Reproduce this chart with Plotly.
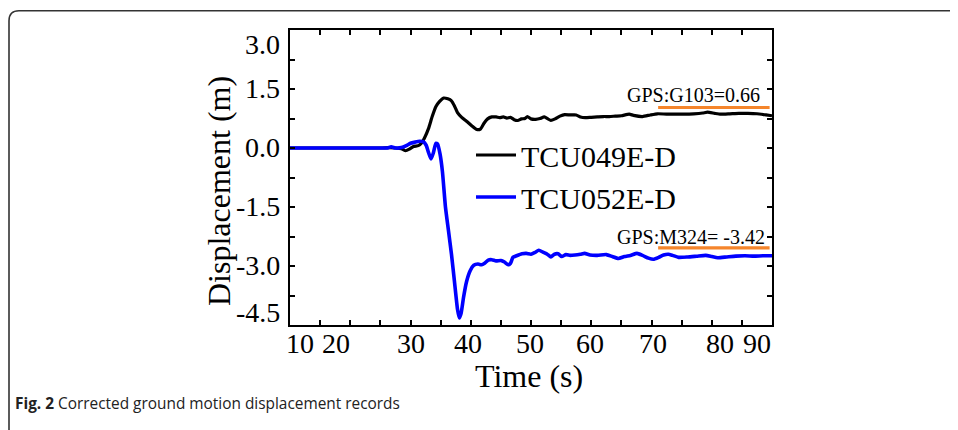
import plotly.graph_objects as go

# ---------------- data ----------------
t_049 = [10, 25, 26.5, 27.5, 28.5, 29.2, 29.8, 30.5, 31.3, 31.8, 32.3, 33.0, 33.6, 34.2, 34.8,
         35.5, 36.2, 36.8, 37.3, 37.8, 38.5, 39.3, 40.2, 41.0, 41.6, 42.2, 42.8, 43.5, 44.2,
         44.8, 45.4, 46.0, 46.6, 47.2, 47.8, 48.4, 49.0, 49.4, 50.0, 50.8, 51.5, 52.2, 52.8,
         53.3, 54.0, 54.8, 55.6, 56.5, 57.5, 58.2, 59.0, 60.0, 61.0, 62.0, 63.0, 64.0, 65.0,
         66.3, 67.0, 68.5, 69.8, 71.0, 72.5, 74.0, 75.5, 77.0, 78.5, 79.3, 80.5, 81.5, 83.0,
         84.5, 86.0, 87.5, 89.0, 90.0]
d_049 = [0, 0, 0.01, 0.0, -0.02, -0.07, -0.03, 0.04, 0.06, 0.12, 0.25, 0.5, 0.8, 1.05, 1.18,
         1.27, 1.25, 1.2, 1.07, 0.9, 0.78, 0.68, 0.56, 0.47, 0.48, 0.63, 0.74, 0.79, 0.79,
         0.77, 0.79, 0.76, 0.78, 0.72, 0.70, 0.74, 0.75, 0.80, 0.74, 0.73, 0.75, 0.79, 0.74,
         0.70, 0.74, 0.81, 0.85, 0.84, 0.84, 0.79, 0.77, 0.78, 0.79, 0.80, 0.80, 0.81, 0.82,
         0.86, 0.83, 0.80, 0.84, 0.87, 0.86, 0.86, 0.86, 0.87, 0.89, 0.91, 0.88, 0.86, 0.87,
         0.88, 0.88, 0.87, 0.84, 0.82]

t_052 = [10, 25, 26.2, 26.8, 27.5, 28.5, 29.3, 30.0, 30.8, 31.5, 32.1, 32.6, 33.0, 33.4, 33.8,
         34.2, 34.5, 34.9, 35.3, 35.8, 36.3, 36.8, 37.3, 37.8, 38.1, 38.4, 38.8, 39.3, 39.9,
         40.5, 41.2, 41.8, 42.3, 42.9, 43.5, 44.2, 45.0, 45.6, 46.2, 46.6, 47.0, 47.6, 48.5,
         49.2, 50.0, 50.6, 51.3, 52.0, 52.7, 53.3, 53.9, 54.5, 55.1, 55.8, 56.5, 57.3, 58.2,
         58.9, 59.8, 61.0, 62.5, 63.5, 64.5, 65.5, 66.5, 67.6, 68.5, 69.5, 70.3, 71.2, 72.0,
         72.8, 73.5, 74.5, 76.0, 77.5, 79.0, 80.0, 81.0, 82.5, 84.0, 85.5, 87.0, 88.5, 90.0]
d_052 = [0, 0, 0.0, 0.03, 0.0, 0.01, 0.06, 0.12, 0.15, 0.17, 0.16, 0.07, -0.12, -0.28, -0.12,
         0.12, 0.10, -0.15, -0.6, -1.5, -2.1, -2.7, -3.4, -4.1, -4.32, -4.2, -3.8, -3.4, -3.12,
         -2.98, -2.95, -2.97, -2.93, -2.85, -2.84, -2.87, -2.86, -2.90, -2.97, -2.93, -2.78, -2.74, -2.69,
         -2.68, -2.70, -2.66, -2.60, -2.65, -2.70, -2.77, -2.70, -2.69, -2.76, -2.71, -2.73, -2.72, -2.70,
         -2.68, -2.72, -2.73, -2.71, -2.76, -2.81, -2.76, -2.73, -2.68, -2.73, -2.80, -2.83, -2.78, -2.72,
         -2.70, -2.73, -2.78, -2.77, -2.75, -2.73, -2.76, -2.79, -2.77, -2.75, -2.74, -2.75, -2.74, -2.74]

series_names = ["TCU049E-D", "TCU052E-D"]

gps_labels = ["GPS:G103=0.66", "GPS:M324= -3.42"]
gps_line_t = [71.1, 89.6]          # start / end time of the GPS reference segments
gps_line_y = [1.03, -2.54]         # level of each GPS reference segment
gps_text_y = [1.35, -2.25]         # level of each GPS label

x_tick_vals = [10, 20, 30, 40, 50, 60, 70, 80, 90]
x_tick_text = ["10", "20", "30", "40", "50", "60", "70", "80", "90"]
y_tick_vals = [3.0, 1.5, 0.0, -1.5, -3.0, -4.5]
y_tick_text = ["3.0", "1.5", "0.0", "-1.5", "-3.0", "-4.5"]

x_title = "Time (s)"
y_title = "Displacement (m)"
caption_bold = "Fig. 2"
caption_text = "Corrected ground motion displacement records"

# ---------------- figure ----------------
OFF = 8                          # page body margin of the html page
W, H = 958 - OFF, 430 - OFF
L, R, T, B = 290, 772, 30, 325   # plot area in page pixels
pw, ph = R - L, B - T

def px(x):
    return (x - L) / pw

def py(y):
    return (B - y) / ph

SERIF = "Liberation Serif, Times New Roman, serif"

fig = go.Figure()
fig.add_trace(go.Scatter(x=t_049, y=d_049, mode="lines", name=series_names[0],
                         line=dict(color="#000000", width=3.2, shape="spline", smoothing=0.5)))
fig.add_trace(go.Scatter(x=t_052, y=d_052, mode="lines", name=series_names[1],
                         line=dict(color="#0000FF", width=3.6, shape="spline", smoothing=0.5)))

# GPS reference segments
for yv in gps_line_y:
    fig.add_trace(go.Scatter(x=gps_line_t, y=[yv, yv], mode="lines", showlegend=False,
                             line=dict(color="#F5852B", width=3.2), hoverinfo="skip"))

annotations = []
# GPS labels
gps_text_x = [88.3, 89.2]
for lab, ty, tx in zip(gps_labels, gps_text_y, gps_text_x):
    annotations.append(dict(x=tx, y=ty, xref="x", yref="y", text=lab, showarrow=False,
                            xanchor="right", yanchor="middle",
                            font=dict(family=SERIF, size=20, color="#000000")))

# x tick labels (with the small sideways offsets of the original)
x_shifts = [10, -14, 0, -3, -1, -1, 1, 8, -15]
for v, s, sh in zip(x_tick_vals, x_tick_text, x_shifts):
    annotations.append(dict(x=v, y=py(343), xref="x", yref="paper", text=s, showarrow=False,
                            xanchor="center", yanchor="middle", xshift=sh,
                            font=dict(family=SERIF, size=28, color="#000000")))

# y tick labels
for v, s in zip(y_tick_vals, y_tick_text):
    ysh = 0
    if v == y_tick_vals[0]:
        ysh = -15
    elif v == y_tick_vals[-1]:
        ysh = 12
    annotations.append(dict(x=0, y=v, xref="paper", yref="y", text=s, showarrow=False,
                            xanchor="right", yanchor="middle", xshift=-8, yshift=ysh + 1,
                            font=dict(family=SERIF, size=28, color="#000000")))

# axis titles
annotations.append(dict(x=px(529), y=py(376), xref="paper", yref="paper", text=x_title,
                        showarrow=False, xanchor="center", yanchor="middle",
                        font=dict(family=SERIF, size=32, color="#000000")))
annotations.append(dict(x=px(219), y=py(191), xref="paper", yref="paper", text=y_title,
                        showarrow=False, xanchor="center", yanchor="middle", textangle=-90,
                        font=dict(family=SERIF, size=32, color="#000000")))

# caption
annotations.append(dict(x=px(13), y=py(403), xref="paper", yref="paper",
                        text="<b>" + caption_bold + "</b> " + caption_text,
                        showarrow=False, xanchor="left", yanchor="middle",
                        font=dict(family="Open Sans, Noto Sans, sans-serif", size=15.4, color="#222222")))

# outer frame (rounded top-left corner)
fx0, fy0, r = 9, 10.7, 10
frame_path = (f"M {px(fx0)},{py(450)} L {px(fx0)},{py(fy0 + r)} "
              f"Q {px(fx0)},{py(fy0)} {px(fx0 + r)},{py(fy0)} L {px(980)},{py(fy0)}")

fig.update_layout(
    width=W, height=H,
    margin=dict(l=L - OFF, r=W - (R - OFF), t=T - OFF, b=H - (B - OFF), pad=0),
    paper_bgcolor="white", plot_bgcolor="white",
    showlegend=True,
    legend=dict(x=px(471), y=py(129), xanchor="left", yanchor="top",
                bgcolor="rgba(0,0,0,0)", borderwidth=0,
                font=dict(family=SERIF, size=30, color="#000000"),
                itemwidth=40, tracegroupgap=0),
    annotations=annotations,
    shapes=[dict(type="path", path=frame_path, xref="paper", yref="paper",
                 line=dict(color="#333333", width=1.6), layer="above")],
)

fig.update_xaxes(range=[10, 90], showgrid=False, zeroline=False, showline=True,
                 linecolor="#000000", linewidth=2, mirror="ticks",
                 tickmode="array", tickvals=x_tick_vals, showticklabels=False,
                 ticks="inside", ticklen=5, tickwidth=1.5, tickcolor="#000000",
                 minor=dict(dtick=5, tick0=0, ticks="inside", ticklen=5, tickwidth=1.5,
                            tickcolor="#000000", showgrid=False))
fig.update_yaxes(range=[-4.5, 3.0], showgrid=False, zeroline=False, showline=True,
                 linecolor="#000000", linewidth=2, mirror="ticks",
                 tickmode="array", tickvals=y_tick_vals, showticklabels=False,
                 ticks="inside", ticklen=5, tickwidth=1.5, tickcolor="#000000",
                 minor=dict(dtick=0.75, tick0=0, ticks="inside", ticklen=5, tickwidth=1.5,
                            tickcolor="#000000", showgrid=False))

fig.write_html("out.html")
